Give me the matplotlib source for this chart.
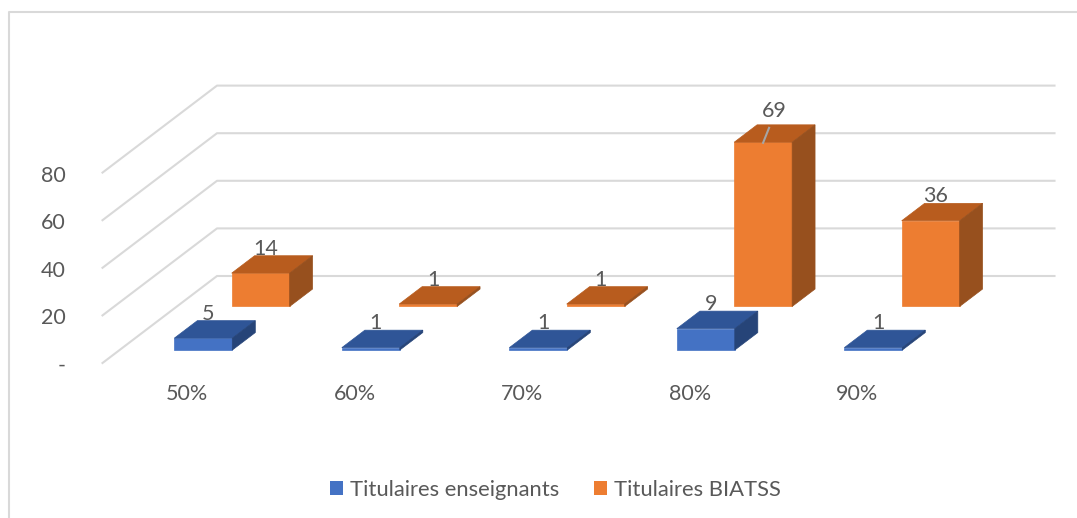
import matplotlib
matplotlib.use('Agg')
import matplotlib.pyplot as plt
from matplotlib.patches import Polygon, Patch

plt.rcParams['font.family'] = ['Lato', 'DejaVu Sans']

categories = ['50%', '60%', '70%', '80%', '90%']
enseignants = [5, 1, 1, 9, 1]
biatss = [14, 1, 1, 69, 36]
y_ticks = [0, 20, 40, 60, 80]
y_tick_labels = ['-', '20', '40', '60', '80']
series_names = ['Titulaires enseignants', 'Titulaires BIATSS']

## oblique projection of the Excel 3D chart, result is in pixels
X0, Y0 = 102.5, 363
CAT_W = 167.5
DEPTH_X, DEPTH_Y = 114.5, -87
UNIT = 2.38
BAR_W = 0.346

GRID = '#D9D9D9'
TEXT = '#595959'
FS = 15.5


def project(cat, depth, val):
	return (X0 + cat * CAT_W + depth * DEPTH_X,
		Y0 + depth * DEPTH_Y - val * UNIT)


def bar3d(ax, i, val, t0, t1, colors):
	left = i + (1 - BAR_W) / 2
	right = left + BAR_W
	front, top, side = colors
	faces = [
		([(left, t0, 0), (right, t0, 0), (right, t0, val), (left, t0, val)], front),
		([(left, t0, val), (right, t0, val), (right, t1, val), (left, t1, val)], top),
		([(right, t0, 0), (right, t1, 0), (right, t1, val), (right, t0, val)], side),
	]
	for pts, c in faces:
		xy = [project(*p) for p in pts]
		ax.add_patch(Polygon(xy, closed=True, fc=c, ec=c, lw=0.5, zorder=3))


fig = plt.figure(figsize=(10.77, 5.18), dpi=100)
ax = fig.add_axes([0, 0, 1, 1])
ax.set_xlim(0, 1077)
ax.set_ylim(518, 0)
ax.axis('off')

## chart frame, only top and left are visible in the crop
ax.plot([8.5, 8.5, 1077], [518, 12, 12], color=GRID, lw=1.5, zorder=1)

## walls
for v, lab in zip(y_ticks, y_tick_labels):
	x1, y1 = project(0, 0, v)
	x2, y2 = project(0, 1, v)
	x3, y3 = project(len(categories), 1, v)
	ax.plot([x1, x2, x3], [y1, y2, y3], color=GRID, lw=1.5, zorder=1)
	ax.text(66, y1 + 3, lab, ha='right', va='center', fontsize=FS, color=TEXT)

for i, c in enumerate(categories):
	x, _ = project(i + 0.5, 0, 0)
	ax.text(x + 1, 394, c, ha='center', va='center', fontsize=FS, color=TEXT)

## back row first
ORANGE = ('#ED7D31', '#B85C1E', '#97501E')
BLUE = ('#4472C4', '#2F5597', '#264478')
for i, v in enumerate(biatss):
	bar3d(ax, i, v, 0.65, 0.85, ORANGE)
for i, v in enumerate(enseignants):
	bar3d(ax, i, v, 0.149, 0.35, BLUE)

## data labels
for vals, t1 in ((enseignants, 0.35), (biatss, 0.85)):
	for i, v in enumerate(vals):
		x, y = project(i + 0.5, t1, v)
		dx, dy = -18, -7
		if v == 69:
			## this one was dragged up in the original, with a leader line
			dx, dy = -12, -14
			ax.plot([x - 23, x - 17], [y + 18, y + 3], color='#A6A6A6', lw=1.5, zorder=4)
		ax.text(x + dx, y + dy, str(v), ha='center', va='center',
			fontsize=FS, color=TEXT, zorder=5)

handles = [Patch(fc=BLUE[0], ec='none'), Patch(fc=ORANGE[0], ec='none')]
leg = ax.legend(handles, series_names, ncol=2, frameon=False, fontsize=15.8,
	loc='center', bbox_to_anchor=(555.5 / 1077, 1 - 490 / 518),
	handlelength=0.57, handleheight=0.57, handletextpad=0.33,
	columnspacing=1.6, labelcolor=TEXT, borderpad=0, borderaxespad=0)

fig.savefig('out.png', dpi=100)
